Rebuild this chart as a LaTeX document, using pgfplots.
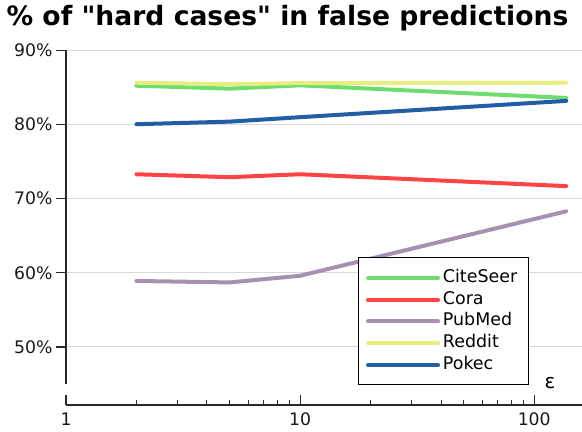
\documentclass[border=0pt]{standalone}
\usepackage{pgfplots}
\pgfplotsset{compat=1.18}
\usepackage{fontspec}
\setmainfont{DejaVu Sans}
\newfontfamily\titlefont{DejaVu Sans}[Ligatures=TeXOff]
\definecolor{cCite}{RGB}{110,221,110}
\definecolor{cCora}{RGB}{255,68,68}
\definecolor{cPub}{RGB}{166,145,176}
\definecolor{cRed}{RGB}{232,237,128}
\definecolor{cPok}{RGB}{33,94,165}
\definecolor{spine}{RGB}{40,40,40}
\begin{document}
\begin{tikzpicture}
\useasboundingbox (-66bp,-27bp) rectangle (516bp,405bp);
\begin{axis}[
  at={(0,0)}, anchor=south west,
  scale only axis, width=516bp, height=354.5bp,
  xmode=log, xmin=1, xmax=160, ymin=42.16, ymax=90,
  axis x line*=bottom, axis y line*=left,
  y axis line style={draw=none},
  x axis line style={line width=1.2bp, spine},
  xtick={1,10,100}, xticklabels={1,10,100},
  minor xtick={2,3,4,5,6,7,8,9,20,30,40,50,60,70,80,90},
  xtick align=inside, ytick align=outside,
  major tick length=10bp, minor tick length=5bp,
  every tick/.style={line width=1.2bp, spine},
  minor tick style={line width=1bp, spine},
  ytick={50,60,70,80,90}, yticklabels={50\%,60\%,70\%,80\%,90\%},
  ymajorgrids, grid style={line width=1bp, black!15},
  tick label style={font=\fontsize{17.3}{20}\selectfont, text=black!90},
  xticklabel style={inner sep=0pt, yshift=-8bp},
  xlabel={ε}, xlabel style={at={(axis description cs:0.938,0.062)}, anchor=center, font=\fontsize{20}{24}\selectfont},
  legend cell align=left,
  legend style={at={(axis description cs:0.566,0.4147)}, anchor=north west, draw=black, line width=1bp, fill=white,
    font=\fontsize{17.5}{20}\selectfont, inner xsep=8bp, inner ysep=9bp, outer sep=0pt,
    nodes={inner sep=2.9bp, text height=12.5bp, text depth=3.5bp}},
  legend image code/.code={\draw[#1] (1bp,0bp) -- (71bp,0bp);},
  every axis plot/.append style={line width=4bp, line cap=round, line join=round},
  clip=false,
]
\addplot[cCite] coordinates {(2,85.25) (5,84.85) (10,85.3) (137,83.6)};
\addlegendentry{CiteSeer}
\addplot[cCora] coordinates {(2,73.3) (5,72.9) (10,73.3) (137,71.7)};
\addlegendentry{Cora}
\addplot[cPub] coordinates {(2,58.9) (5,58.7) (10,59.6) (137,68.3)};
\addlegendentry{PubMed}
\addplot[cRed] coordinates {(2,85.65) (5,85.45) (10,85.6) (137,85.65)};
\addlegendentry{Reddit}
\addplot[cPok] coordinates {(2,80.05) (5,80.4) (10,81.0) (137,83.2)};
\addlegendentry{Pokec}
\draw[line width=1.2bp, spine] (axis cs:1,45) -- (axis cs:1,90);
\end{axis}
\node[anchor=base, font=\titlefont\bfseries\fontsize{26.7}{30}\selectfont] at (221.5bp,379bp) {\% of "hard cases" in false predictions};
\end{tikzpicture}
\end{document}
